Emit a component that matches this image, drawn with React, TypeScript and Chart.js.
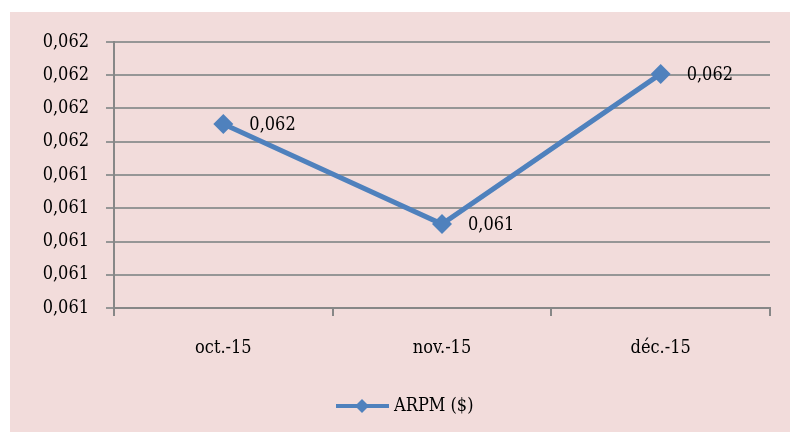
import React, { useEffect, useRef } from "react";
import { Chart, registerables } from "chart.js";

Chart.register(...registerables);

const categories = ["oct.-15", "nov.-15", "déc.-15"];
const seriesLabel = "ARPM ($)";
const arpmValues = [0.061707, 0.061105, 0.062008];
const yTickValues = [0.0606, 0.0608, 0.061, 0.0612, 0.0614, 0.0616, 0.0618, 0.062, 0.0622];

const FONT = "'DejaVu Serif Condensed', 'Liberation Serif', serif";
const FS = 18;
const BLUE = "#4F81BD";
const fmt = (v: number) => Number(v).toFixed(3).replace(".", ",");

const labelsPlugin = {
  id: "customLabels",
  afterDatasetsDraw(chart: any) {
    const ctx = chart.ctx;
    const meta = chart.getDatasetMeta(0);
    ctx.save();
    ctx.font = `${FS}px ${FONT}`;
    ctx.fillStyle = "#000";
    ctx.textAlign = "left";
    ctx.textBaseline = "middle";
    meta.data.forEach((pt: any, i: number) => {
      ctx.fillText(fmt(arpmValues[i]), pt.x + 26, pt.y + 1);
    });
    ctx.restore();
  },
  afterDraw(chart: any) {
    const ctx = chart.ctx;
    const cx = (chart.chartArea.left + chart.chartArea.right) / 2;
    const y = chart.height - 26;
    const lineStart = cx - 106;
    const lineEnd = lineStart + 53;
    ctx.save();
    ctx.strokeStyle = BLUE;
    ctx.lineWidth = 4;
    ctx.beginPath();
    ctx.moveTo(lineStart, y);
    ctx.lineTo(lineEnd, y);
    ctx.stroke();
    const dx = lineStart + 26;
    ctx.fillStyle = BLUE;
    ctx.beginPath();
    ctx.moveTo(dx, y - 7);
    ctx.lineTo(dx + 7, y);
    ctx.lineTo(dx, y + 7);
    ctx.lineTo(dx - 7, y);
    ctx.closePath();
    ctx.fill();
    ctx.font = `${FS}px ${FONT}`;
    ctx.fillStyle = "#000";
    ctx.textAlign = "left";
    ctx.textBaseline = "middle";
    ctx.fillText(seriesLabel, lineEnd + 5, y);
    ctx.restore();
  },
};

export default function App() {
  const ref = useRef<HTMLCanvasElement | null>(null);
  useEffect(() => {
    if (!ref.current) return;
    const chart = new Chart(ref.current, {
      type: "line",
      data: {
        labels: categories,
        datasets: [
          {
            label: seriesLabel,
            data: arpmValues,
            borderColor: BLUE,
            backgroundColor: BLUE,
            borderWidth: 5,
            pointStyle: "rectRot",
            pointRadius: 10,
            pointHoverRadius: 10,
            pointBorderWidth: 0,
            tension: 0,
          },
        ],
      },
      options: {
        responsive: false,
        animation: false,
        events: [],
        layout: { padding: { left: 10, right: 20, top: 30, bottom: 64 } },
        plugins: { legend: { display: false }, tooltip: { enabled: false } },
        scales: {
          x: {
            offset: true,
            grid: {
              offset: true,
              drawOnChartArea: false,
              drawTicks: true,
              tickLength: 8,
              color: "#878787",
              lineWidth: 2,
            },
            border: { display: true, color: "#878787", width: 2 },
            ticks: { color: "#000", font: { family: FONT, size: FS }, padding: 22 },
            afterFit: (s: any) => {
              s.height = 60;
            },
          },
          y: {
            min: 0.0606,
            max: 0.0622,
            afterBuildTicks: (s: any) => {
              s.ticks = yTickValues.map((v) => ({ value: v }));
            },
            grid: { color: "#969696", lineWidth: 2, tickLength: 8, drawTicks: true },
            border: { display: true, color: "#878787", width: 2 },
            ticks: {
              color: "#000",
              font: { family: FONT, size: FS },
              padding: 17,
              callback: (v: any) => fmt(Number(v)),
            },
            afterFit: (s: any) => {
              s.width = 94;
            },
          },
        },
      },
      plugins: [labelsPlugin],
    });
    return () => chart.destroy();
  }, []);
  return (
    <div
      style={{
        position: "absolute",
        left: 10,
        top: 12,
        width: 780,
        height: 420,
        background: "#F2DCDB",
      }}
    >
      <canvas ref={ref} width={780} height={420} style={{ display: "block" }} />
    </div>
  );
}
